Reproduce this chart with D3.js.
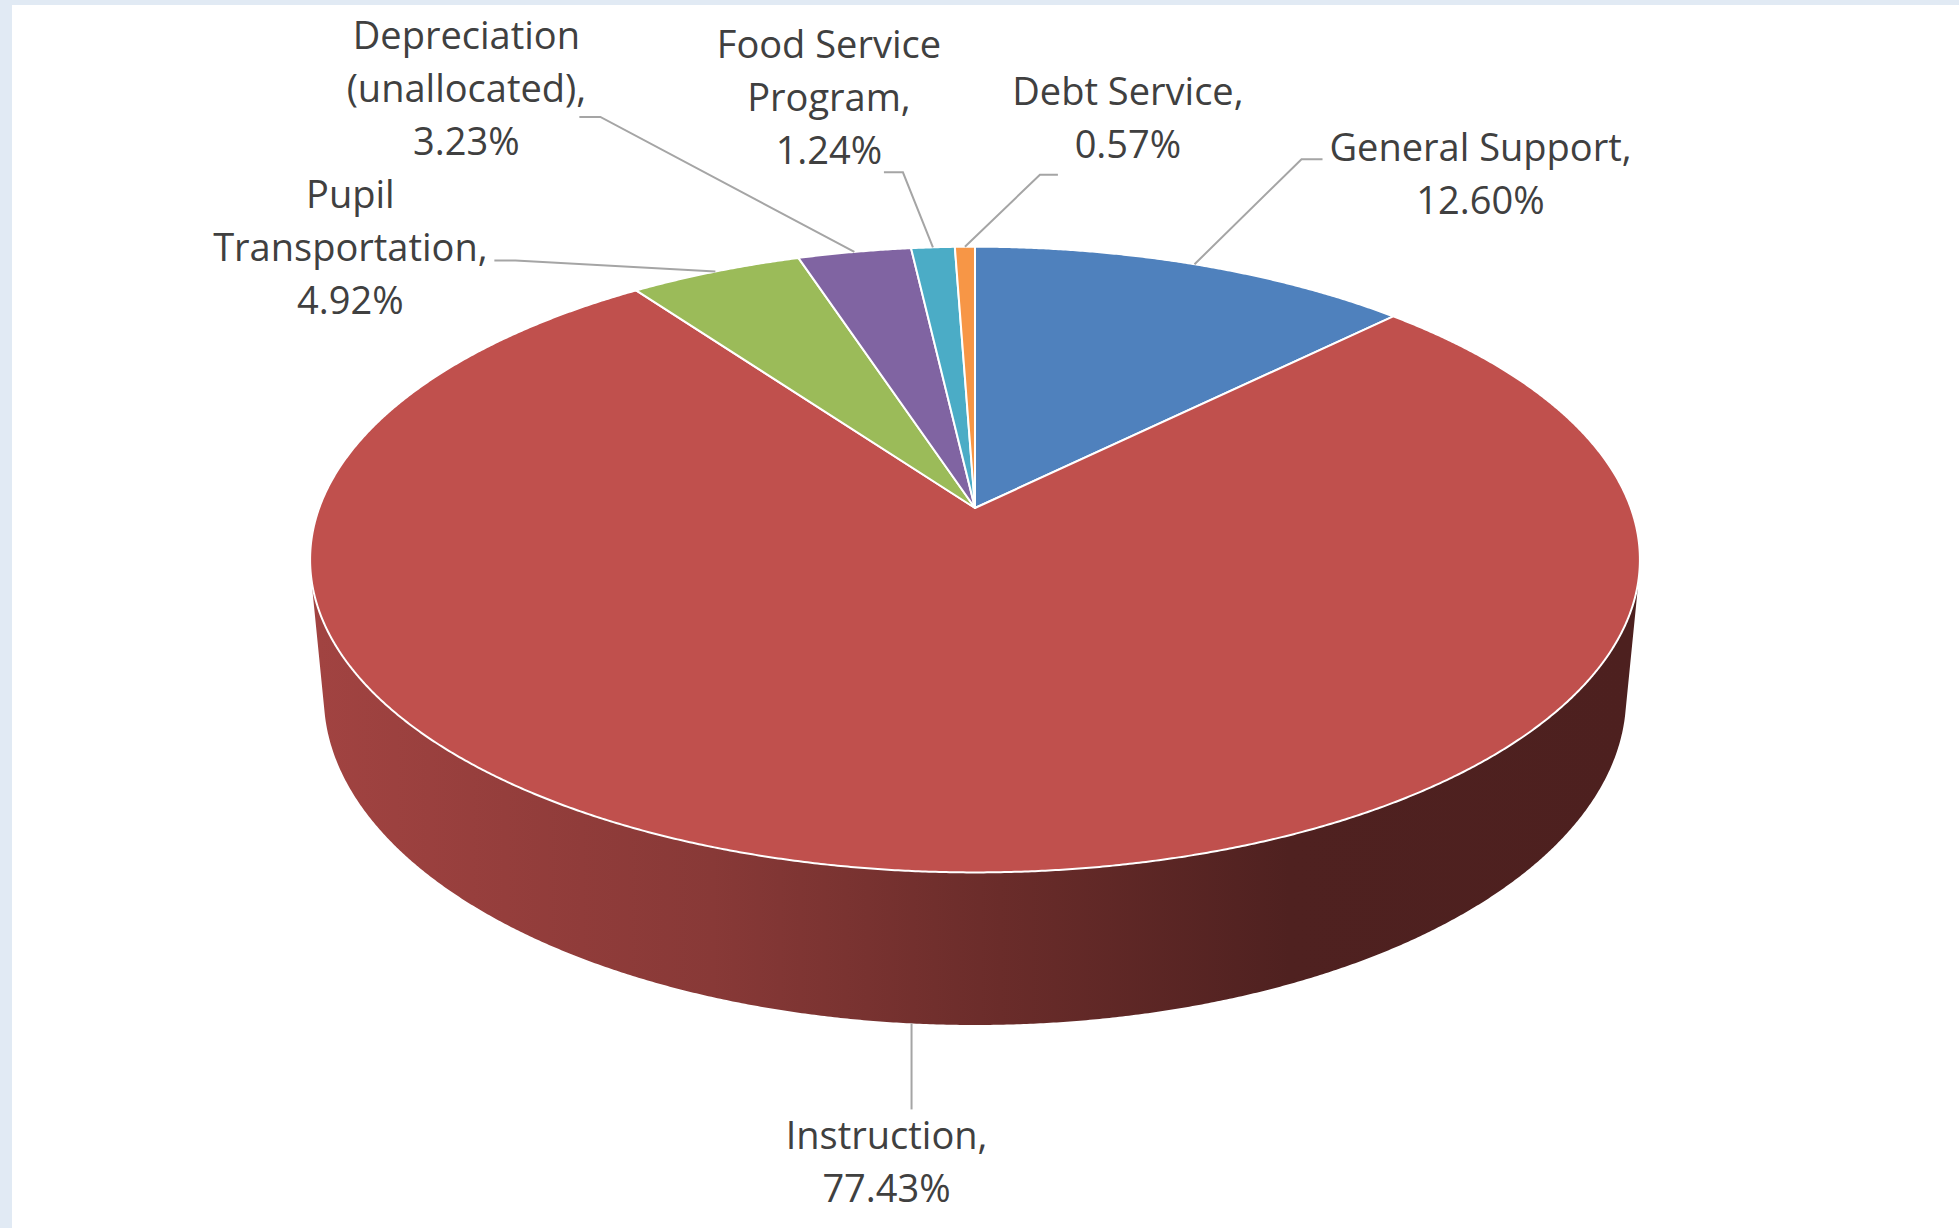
<!DOCTYPE html>
<html>
<head>
<meta charset="utf-8">
<script src="https://cdn.jsdelivr.net/npm/d3@7"></script>
<style>
  body { margin: 0; background: #fff; }
  svg { display: block; }
</style>
</head>
<body>
<script>
var w = 1959;
var h = 1228;

// chart data
var categories = ["General Support", "Instruction", "Pupil Transportation",
                  "Depreciation (unallocated)", "Food Service Program", "Debt Service"];
var values = [12.60, 77.43, 4.92, 3.23, 1.24, 0.57];
// how each category label is broken into lines
var labelLines = [["General Support,"], ["Instruction,"], ["Pupil", "Transportation,"],
                  ["Depreciation", "(unallocated),"], ["Food Service", "Program,"], ["Debt Service,"]];

var colors = ["#4f81bd", "#c0504d", "#9bbb59", "#8064a2", "#4bacc6", "#f79646"];

// 3d view of the pie (perspective camera looking down on it)
var cx = 975, cy = 508;      // where the pie centre lands on screen
var focal = 3525;            // focal length in px (pie radius = 1)
var dist = 5.375;            // camera distance in pie radii
var sinE = 0.4641, cosE = Math.sqrt(1 - sinE * sinE);
var thick = 0.2376;          // pie height in pie radii

// label placement relative to the leader anchor on the pie
var labelOffsets = [
    {elbow: [107, -105], tick: 21,  text: [286, -103]},
    {elbow: [0, 86],     tick: 0,   text: [-25, 126]},
    {elbow: [-200, -11], tick: -21, text: [-365, -64]},
    {elbow: [-254, -135], tick: -21, text: [-388, -203]},
    {elbow: [-30, -75],  tick: -19, text: [-104, -189]},
    {elbow: [75, -72],   tick: 18,  text: [163, -142]}
];
var lineGap = 53;

function project(a, r, z) {
    var x = r * Math.sin(a), y = r * Math.cos(a);
    var depth = y * cosE - z * sinE + dist;
    var sy = y * sinE + z * cosE;
    return [cx + focal * x / depth, cy - focal * sy / depth];
}

function arcAngles(a0, a1) {
    var step = Math.PI / 720;
    return d3.range(a0, a1, step).concat([a1]);
}

// side faces visible where the rim faces the camera
var visLimit = Math.acos(-1 / (dist * cosE));
var visStart = visLimit, visEnd = 2 * Math.PI - visLimit;

var pie = d3.pie().sort(null).value(function (d) { return d; });
var arcs = pie(values);

var svg = d3.select("body")
            .append("svg")
            .attr("width", w)
            .attr("height", h);

// frame strips
svg.append("rect").attr("x", 0).attr("y", 0).attr("width", w).attr("height", 5).attr("fill", "#e1eaf4");
svg.append("rect").attr("x", 0).attr("y", 0).attr("width", 12).attr("height", h).attr("fill", "#e1eaf4");

var line = d3.line().curve(d3.curveLinearClosed);
var defs = svg.append("defs");

// side shading: lighter on the left, dark on the right
var xLeft = project(-Math.PI / 2, 1, 0)[0];
var xRight = project(Math.PI / 2, 1, 0)[0];
var shade = [[0, 0.84], [0.2, 0.75], [0.3, 0.71], [0.52, 0.55], [0.74, 0.41], [1, 0.40]];

arcs.forEach(function (d, i) {
    var base = d3.rgb(colors[i]);
    var g = defs.append("linearGradient")
                .attr("id", "side" + i)
                .attr("gradientUnits", "userSpaceOnUse")
                .attr("x1", xLeft).attr("x2", xRight)
                .attr("y1", 0).attr("y2", 0);
    g.selectAll("stop")
     .data(shade)
     .enter()
     .append("stop")
     .attr("offset", function (s) { return s[0]; })
     .attr("stop-color", function (s) {
         return d3.rgb(base.r * s[1], base.g * s[1], base.b * s[1]).formatHex();
     });
});

// sides
svg.append("g")
   .selectAll("path")
   .data(arcs.filter(function (d) {
       return d.endAngle > visStart && d.startAngle < visEnd;
   }))
   .enter()
   .append("path")
   .attr("d", function (d) {
       var a0 = Math.max(d.startAngle, visStart), a1 = Math.min(d.endAngle, visEnd);
       var top = arcAngles(a0, a1).map(function (a) { return project(a, 1, 0); });
       var bottom = arcAngles(a0, a1).reverse().map(function (a) { return project(a, 1, -thick); });
       return line(top.concat(bottom));
   })
   .attr("fill", function (d) { return "url(#side" + d.index + ")"; });

// top faces
svg.append("g")
   .selectAll("path")
   .data(arcs)
   .enter()
   .append("path")
   .attr("d", function (d) {
       var pts = arcAngles(d.startAngle, d.endAngle).map(function (a) { return project(a, 1, 0); });
       return line([[cx, cy]].concat(pts));
   })
   .attr("fill", function (d, i) { return colors[i]; })
   .attr("stroke", "#fff")
   .attr("stroke-width", 2)
   .attr("stroke-linejoin", "round");

// data labels with leader lines
var fmt = d3.format(".2f");
var labels = svg.append("g");

arcs.forEach(function (d, i) {
    var mid = (d.startAngle + d.endAngle) / 2;
    var front = mid > visStart && mid < visEnd;
    var anchor = project(mid, 1, front ? -thick : 0);
    var o = labelOffsets[i];
    var elbow = [anchor[0] + o.elbow[0], anchor[1] + o.elbow[1]];
    var pts = [anchor, elbow];
    if (o.tick !== 0) pts.push([elbow[0] + o.tick, elbow[1]]);

    labels.append("path")
          .attr("d", d3.line()(pts))
          .attr("fill", "none")
          .attr("stroke", "#a5a5a5")
          .attr("stroke-width", 2);

    var textLines = labelLines[i].concat([fmt(values[i]) + "%"]);
    labels.append("text")
          .attr("x", anchor[0] + o.text[0])
          .attr("y", anchor[1] + o.text[1])
          .attr("text-anchor", "middle")
          .style("font-family", "'Open Sans', sans-serif")
          .style("font-size", "38px")
          .style("fill", "#404040")
          .selectAll("tspan")
          .data(textLines)
          .enter()
          .append("tspan")
          .attr("x", anchor[0] + o.text[0])
          .attr("dy", function (t, k) { return k === 0 ? 0 : lineGap; })
          .text(function (t) { return t; });
});
</script>
</body>
</html>
